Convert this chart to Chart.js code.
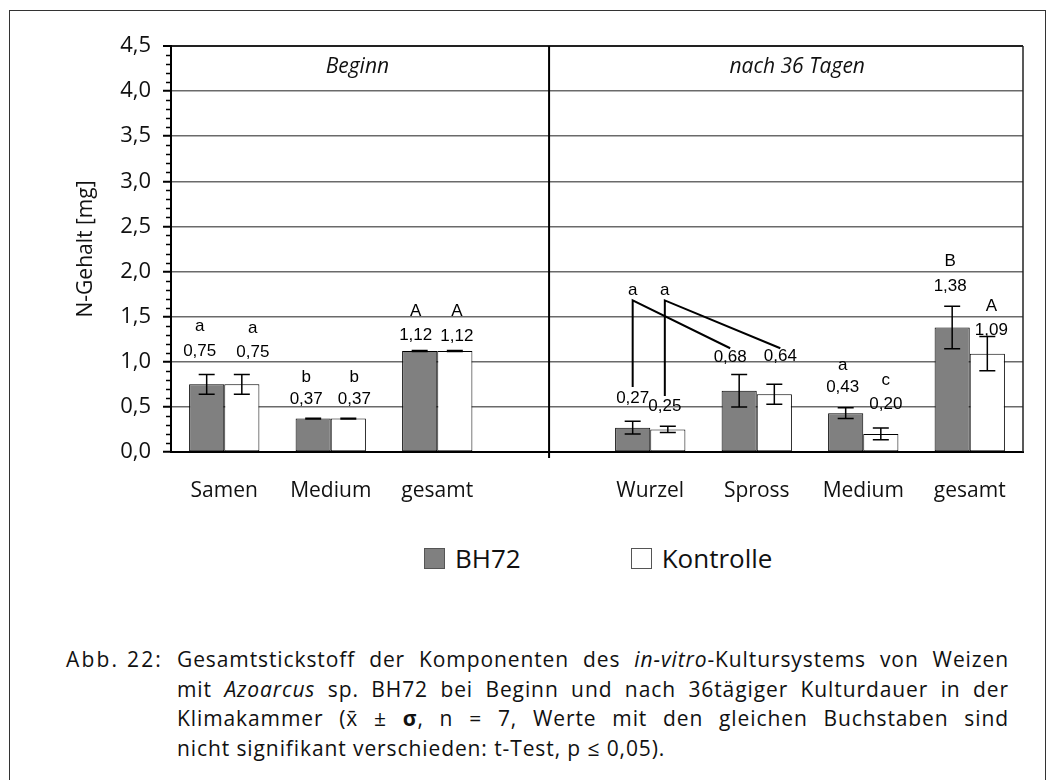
<!DOCTYPE html>
<html>
<head>
<meta charset="utf-8">
<script src="https://cdn.jsdelivr.net/npm/chart.js@4.4.0/dist/chart.umd.min.js"></script>
<style>
  body { margin: 0; background: #fff; width: 1058px; height: 780px; position: relative; overflow: hidden; font-family: "Open Sans", sans-serif; color: #111; }
  #frame { position: absolute; left: 9px; top: 10px; width: 1037px; height: 800px; border: 1.5px solid #333; box-sizing: border-box; }
  #chart { position: absolute; left: 0; top: 0; }
  #legend { position: absolute; left: 424px; top: 540px; display: flex; align-items: center; font-size: 26px; }
  #legend .item { display: flex; align-items: center; margin-right: 110px; }
  #legend .box { width: 19px; height: 19px; border: 1px solid #555; margin-right: 10px; }
  #caption { position: absolute; left: 0; top: 645px; font-size: 21px; line-height: 29.5px; letter-spacing: 0.9px; }
  #caption .lab { position: absolute; left: 66px; top: 0; white-space: nowrap; letter-spacing: 2.2px; }
  #caption .txt { position: absolute; left: 177px; top: 0; width: 832px; }
  #caption .txt div { white-space: nowrap; }
  #caption .j { text-align: justify; text-align-last: justify; }
</style>
</head>
<body>
<div id="frame"></div>
<canvas id="chart" width="1058" height="520"></canvas>
<div id="legend"></div>
<div id="caption">
  <div class="lab">Abb. 22:</div>
  <div class="txt">
    <div class="j">Gesamtstickstoff der Komponenten des <i>in-vitro</i>-Kultursystems von Weizen</div>
    <div class="j">mit <i>Azoarcus</i> sp. BH72 bei Beginn und nach 36tägiger Kulturdauer in der</div>
    <div class="j">Klimakammer (x̄ ± <b>σ</b>, n = 7, Werte mit den gleichen Buchstaben sind</div>
    <div>nicht signifikant verschieden: t-Test, p ≤ 0,05).</div>
  </div>
</div>
<script>
// data
var categories = ['Samen', 'Medium', 'gesamt', '', 'Wurzel', 'Spross', 'Medium', 'gesamt'];
var seriesNames = ['BH72', 'Kontrolle'];
var seriesColors = ['#808080', '#ffffff'];
var bh72 = [0.75, 0.37, 1.12, null, 0.27, 0.68, 0.43, 1.38];
var kontrolle = [0.75, 0.37, 1.12, null, 0.25, 0.64, 0.20, 1.09];
var bh72Sd = [0.11, 0.005, 0.005, null, 0.07, 0.18, 0.06, 0.235];
var kontrolleSd = [0.11, 0.005, 0.005, null, 0.035, 0.11, 0.065, 0.19];
var bh72Letters = ['a', 'b', 'A', '', 'a', '', 'a', 'B'];
var kontrolleLetters = ['a', 'b', 'A', '', 'a', '', 'c', 'A'];
var sections = ['Beginn', 'nach 36 Tagen'];

// where the labels sit (value units on the y axis, pixel shift on x)
var bh72ValueY = [1.12, 0.58, 1.29, null, 0.60, 1.05, 0.72, 1.84];
var bh72LetterY = [1.39, 0.83, 1.56, null, 1.79, null, 0.96, 2.11];
var kontrolleValueY = [1.11, 0.58, 1.28, null, 0.51, 1.06, 0.53, 1.35];
var kontrolleLetterY = [1.37, 0.83, 1.56, null, 1.79, null, 0.79, 1.61];
var bh72Shift = [-7, -7, -4, 0, 0, -9, -3, -2];
var kontrolleShift = [11, 6, 2, 0, -3, 6, 5, 4];
var sectionX = [1.25, 5.38];
var sectionY = 4.27;
var dividerAt = 3.05;
// "a" connector lines Wurzel -> Spross
var linkFrom = 4, linkTo = 5;
var linkTopY = 1.68, linkEndY = 1.15;
var linkBottomY = [0.72, 0.62];

var comma = function (v, d) { return v.toFixed(d).replace('.', ','); };

// legend in html
var legend = document.getElementById('legend');
seriesNames.forEach(function (name, i) {
  var item = document.createElement('div');
  item.className = 'item';
  item.innerHTML = '<div class="box" style="background:' + seriesColors[i] + '"></div><span>' + name + '</span>';
  legend.appendChild(item);
});

var extras = {
  id: 'extras',
  afterDatasetsDraw: function (chart) {
    var ctx = chart.ctx, area = chart.chartArea;
    var x = chart.scales.x, y = chart.scales.y;
    ctx.save();

    // minor ticks on y axis
    ctx.strokeStyle = '#000';
    ctx.lineWidth = 1.5;
    for (var i = 1; i < 45; i++) {
      if (i % 5 === 0) continue;
      var py = Math.round(y.getPixelForValue(i / 10)) + 0.5;
      ctx.beginPath();
      ctx.moveTo(area.left - 5, py);
      ctx.lineTo(area.left, py);
      ctx.stroke();
    }

    // right frame and divider
    ctx.lineWidth = 1.5;
    ctx.strokeStyle = '#222';
    ctx.beginPath();
    ctx.moveTo(area.right, area.top);
    ctx.lineTo(area.right, area.bottom);
    ctx.stroke();
    ctx.lineWidth = 2;
    ctx.strokeStyle = '#000';
    var dx = x.getPixelForValue(dividerAt);
    ctx.beginPath();
    ctx.moveTo(dx, area.top);
    ctx.lineTo(dx, area.bottom + 6);
    ctx.stroke();

    // section titles
    ctx.fillStyle = '#111';
    ctx.font = 'italic 21px "Open Sans"';
    ctx.textAlign = 'center';
    ctx.textBaseline = 'middle';
    sections.forEach(function (s, k) {
      ctx.fillText(s, x.getPixelForValue(sectionX[k]), y.getPixelForValue(sectionY));
    });

    var sets = [
      { sd: bh72Sd, letters: bh72Letters, valY: bh72ValueY, letY: bh72LetterY, shift: bh72Shift },
      { sd: kontrolleSd, letters: kontrolleLetters, valY: kontrolleValueY, letY: kontrolleLetterY, shift: kontrolleShift }
    ];

    // error bars
    ctx.lineWidth = 1.5;
    sets.forEach(function (s, di) {
      var meta = chart.getDatasetMeta(di);
      var vals = chart.data.datasets[di].data;
      meta.data.forEach(function (bar, i) {
        if (vals[i] == null) return;
        var top = y.getPixelForValue(vals[i] + s.sd[i]);
        var bot = y.getPixelForValue(vals[i] - s.sd[i]);
        ctx.beginPath();
        ctx.moveTo(bar.x, top); ctx.lineTo(bar.x, bot);
        ctx.moveTo(bar.x - 8, top); ctx.lineTo(bar.x + 8, top);
        ctx.moveTo(bar.x - 8, bot); ctx.lineTo(bar.x + 8, bot);
        ctx.stroke();
      });
    });

    // value labels and letters
    ctx.font = '17px "Liberation Sans"';
    ctx.fillStyle = '#000';
    sets.forEach(function (s, di) {
      var meta = chart.getDatasetMeta(di);
      var vals = chart.data.datasets[di].data;
      meta.data.forEach(function (bar, i) {
        if (vals[i] == null) return;
        var lx = bar.x + s.shift[i];
        ctx.fillText(comma(vals[i], 2), lx, y.getPixelForValue(s.valY[i]));
        if (s.letters[i]) ctx.fillText(s.letters[i], lx, y.getPixelForValue(s.letY[i]));
      });
    });

    // connector lines between the "a" groups
    ctx.lineWidth = 2;
    sets.forEach(function (s, di) {
      var meta = chart.getDatasetMeta(di);
      var fx = meta.data[linkFrom].x + s.shift[linkFrom];
      var tx = meta.data[linkTo].x + s.shift[linkTo];
      var ty = y.getPixelForValue(linkTopY);
      ctx.beginPath();
      ctx.moveTo(fx, y.getPixelForValue(linkBottomY[di]));
      ctx.lineTo(fx, ty);
      ctx.lineTo(tx, y.getPixelForValue(linkEndY));
      ctx.stroke();
    });

    ctx.restore();
  }
};

var chart = new Chart(document.getElementById('chart').getContext('2d'), {
  type: 'bar',
  data: {
    labels: categories,
    datasets: [{
      label: seriesNames[0],
      data: bh72,
      backgroundColor: seriesColors[0],
      borderColor: '#000',
      borderWidth: 1,
      borderSkipped: false
    }, {
      label: seriesNames[1],
      data: kontrolle,
      backgroundColor: seriesColors[1],
      borderColor: '#000',
      borderWidth: 1,
      borderSkipped: false
    }]
  },
  options: {
    responsive: false,
    animation: false,
    layout: { padding: { left: 0, right: 35, top: 46, bottom: 0 } },
    categoryPercentage: 0.66,
    barPercentage: 1.0,
    plugins: { legend: { display: false }, tooltip: { enabled: false } },
    scales: {
      x: {
        grid: { display: false, drawTicks: false },
        border: { display: true, color: '#000', width: 2 },
        ticks: { color: '#111', font: { family: 'Open Sans', size: 21 }, padding: 26 },
        afterFit: function (s) { s.height = 68; }
      },
      y: {
        min: 0,
        max: 4.5,
        ticks: {
          stepSize: 0.5,
          color: '#111',
          font: { family: 'Open Sans', size: 22 },
          padding: 12,
          callback: function (v) { return comma(v, 1); }
        },
        grid: {
          color: function (c) { return c.tick && c.tick.value === 4.5 ? '#222' : '#6a6a6a'; },
          lineWidth: function (c) { return c.tick && c.tick.value === 4.5 ? 2 : 1.5; },
          tickColor: '#000',
          tickLength: 8,
          tickWidth: 2
        },
        border: { display: true, color: '#000', width: 2 },
        title: {
          display: true,
          text: 'N-Gehalt [mg]',
          color: '#111',
          font: { family: 'Open Sans', size: 21 },
          padding: { top: 73, bottom: 0 }
        },
        afterFit: function (s) { s.width = 171; }
      }
    }
  },
  plugins: [extras]
});
</script>
</body>
</html>
